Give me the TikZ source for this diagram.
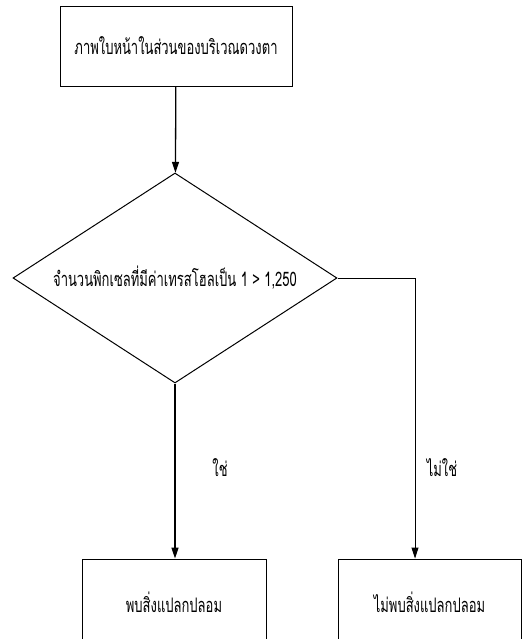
\documentclass[tikz,border=0pt]{standalone}
\usepackage{fontspec}
\setmainfont[Script=Thai,FakeStretch=0.65]{Loma}
\usetikzlibrary{shapes.geometric,arrows.meta}
\tikzset{
  procbox/.style={draw,line width=0.9pt,minimum width=#1,minimum height=80pt,inner sep=0pt},
  decbox/.style={diamond,draw,line width=1pt,aspect=1.54,minimum width=324pt,minimum height=210pt,inner sep=0pt},
  flow/.style={line width=1.3pt,-{Triangle[width=7pt,length=11pt]}},
  thin flow/.style={line width=0.9pt,-{Triangle[width=7pt,length=11pt]}},
  lbl/.style={font=\fontsize{20}{20}\selectfont}
}
\begin{document}
\begin{tikzpicture}[x=1pt,y=1pt,font=\fontsize{20}{20}\selectfont]
  \clip (0,0) rectangle (524,-639);
  \fill[white] (0,0) rectangle (524,-639);
  % boxes
  \node[procbox=232pt] (face) at (176,-46) {ภาพใบหน้าในส่วนของบริเวณดวงตา};
  \node[decbox] (check) at (175,-278) {จำนวนพิกเซลที่มีค่าเทรสโฮลเป็น 1 > 1,250};
  \node[procbox=184pt,minimum height=86pt] (found) at (174,-602) {พบสิ่งแปลกปลอม};
  \node[procbox=183pt,minimum height=86pt] (notfound) at (429.5,-602) {ไม่พบสิ่งแปลกปลอม};
  \coordinate (turn) at (415,-278);
  % connectors
  \draw[flow] (face) -- (check);
  \draw[flow] (check.south) -- (check.south |- found.north);
  \draw[thin flow] (check.east) -- (turn) -- (turn |- notfound.north);
  \node[lbl] (yes) at (220,-468) {ใช่};
  \node[lbl] (no) at (442,-468) {ไม่ใช่};
\end{tikzpicture}
\end{document}
